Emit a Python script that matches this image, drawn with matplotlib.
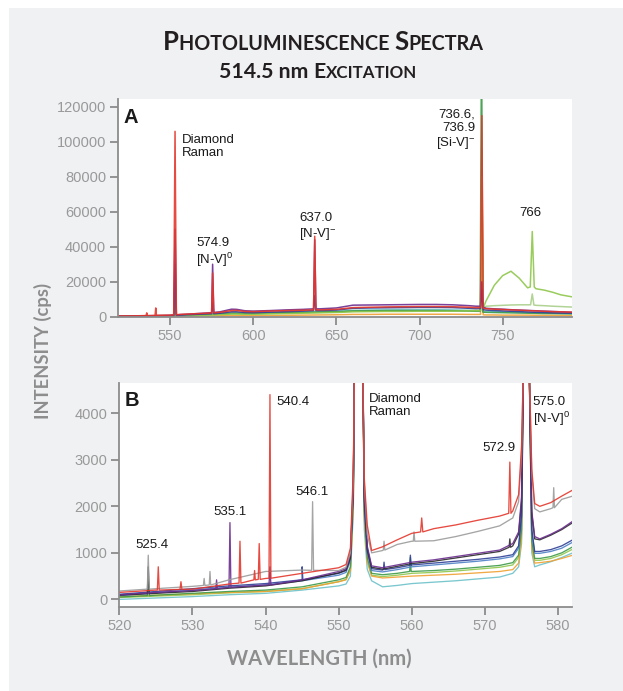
import numpy as np
import matplotlib
matplotlib.use("Agg")
import matplotlib.pyplot as plt
from matplotlib.patches import Rectangle
from matplotlib.offsetbox import TextArea, HPacker, AnnotationBbox

plt.rcParams['font.family'] = ['Liberation Sans', 'DejaVu Sans']
plt.rcParams['mathtext.fontset'] = 'custom'
plt.rcParams['mathtext.rm'] = 'Liberation Sans'
plt.rcParams['mathtext.it'] = 'Liberation Sans'

# ---------------- panel A : full range spectra ----------------
a_wl = [519, 525, 530, 540, 550, 551.5, 556, 560, 565, 570, 575, 580, 587, 590, 595, 600,
        610, 620, 630, 640, 650, 660, 670, 680, 690, 700, 710, 720, 730, 734, 740, 745,
        750, 755, 760, 765, 770, 775, 780, 785, 792]
a_red = [400, 450, 500, 700, 900, 1000, 1300, 1500, 1700, 1900, 2100, 2500, 3500, 3600, 3000, 2900,
         3200, 3500, 3700, 3900, 4200, 5200, 5400, 5600, 5700, 5800, 5800, 5700, 5400, 5200, 4600, 4300,
         4100, 3900, 3700, 3500, 3300, 3100, 2900, 2800, 2600]
a_purple = [300, 350, 400, 600, 800, 900, 1200, 1400, 1700, 2000, 2300, 2800, 4300, 4200, 3400, 3200,
            3500, 3900, 4200, 4500, 5000, 6600, 6700, 6800, 6900, 7000, 7000, 6800, 6300, 6000, 4800, 4500,
            4300, 4000, 3800, 3600, 3400, 3200, 3000, 2800, 2500]
a_darkblue = [200, 250, 300, 450, 600, 700, 900, 1100, 1300, 1500, 1700, 2000, 2800, 2800, 2400, 2300,
              2600, 2900, 3200, 3500, 3800, 4800, 5000, 5100, 5200, 5300, 5300, 5200, 4800, 4600, 3800, 3500,
              3300, 3100, 2900, 2700, 2500, 2400, 2200, 2100, 2000]
a_teal = [100, 150, 200, 300, 400, 500, 700, 800, 1000, 1100, 1300, 1500, 2000, 2000, 1800, 1800,
          2000, 2300, 2600, 2800, 3000, 3600, 3800, 3900, 4000, 4000, 4000, 3900, 3600, 3500, 3000, 2900,
          2800, 2700, 2600, 2500, 2400, 2300, 2200, 2100, 2000]
a_green = [150, 200, 250, 350, 500, 600, 800, 900, 1100, 1200, 1400, 1600, 2000, 2000, 1900, 1900,
           2100, 2300, 2500, 2700, 2900, 3300, 3400, 3500, 3500, 3500, 3500, 3400, 3200, 3100, 2500, 2400,
           2300, 2200, 2100, 2000, 1900, 1800, 1800, 1700, 1600]
a_lightgreen = [100, 150, 200, 300, 400, 500, 600, 700, 800, 900, 1000, 1200, 1500, 1500, 1400, 1400,
                1600, 1800, 2000, 2200, 2400, 2800, 2900, 3000, 3000, 3100, 3100, 3200, 3300, 3400, 9000, 18000,
                23500, 26000, 22000, 16500, 16000, 15200, 14000, 12500, 11300]
a_sage = [120, 170, 220, 320, 450, 550, 700, 800, 950, 1050, 1200, 1400, 1800, 1800, 1700, 1700,
          1900, 2100, 2300, 2500, 2700, 3100, 3200, 3300, 3300, 3400, 3400, 3400, 3500, 3600, 6000, 6300,
          6500, 6700, 6800, 6800, 6500, 6300, 6000, 5800, 5500]
a_orange = [50, 80, 100, 150, 200, 250, 300, 350, 400, 450, 500, 550, 700, 700, 650, 650,
            700, 800, 900, 1000, 1100, 1300, 1300, 1400, 1400, 1400, 1400, 1400, 1300, 1300, 1000, 1000,
            900, 900, 900, 900, 800, 800, 800, 700, 700]

# peaks (wavelength, cps) for panel A
a_red_pk_wl = [535.6, 536.0, 536.4, 541.0, 541.4, 541.8, 552.2, 553.0, 553.8, 574.9, 575.6, 576.3,
               636.3, 637.0, 637.7, 736.7, 737.5, 738.3]
a_red_pk = [650, 2200, 650, 800, 5000, 800, 950, 106000, 1100, 2150, 25000, 2200,
            3900, 46000, 3900, 5200, 115000, 4800]
a_purple_pk_wl = [552.2, 553.0, 553.8, 574.9, 575.6, 576.3, 636.3, 637.0, 637.7, 736.7, 737.5, 738.3]
a_purple_pk = [850, 50000, 1000, 2300, 30000, 2400, 4500, 44000, 4500, 6000, 20000, 5500]
a_darkblue_pk_wl = [552.2, 553.0, 553.8, 574.9, 575.6, 576.3, 636.3, 637.0, 637.7, 736.7, 737.5, 738.3]
a_darkblue_pk = [650, 30000, 800, 1700, 8000, 1700, 3500, 12000, 3500, 4700, 15000, 4000]
a_teal_pk_wl = [552.2, 553.0, 553.8, 736.7, 737.5, 738.3]
a_teal_pk = [500, 20000, 600, 3500, 60000, 3000]
a_green_pk_wl = [552.2, 553.0, 553.8, 736.5, 737.3, 738.1]
a_green_pk = [550, 25000, 700, 3100, 160000, 2600]
a_lightgreen_pk_wl = [736.7, 737.5, 738.3, 766.6, 767.8, 769.0]
a_lightgreen_pk = [3400, 80000, 5000, 17000, 48700, 17000]
a_sage_pk_wl = [736.7, 737.5, 738.3, 766.8, 767.8, 768.8]
a_sage_pk = [3600, 40000, 5000, 6800, 13000, 6700]
a_orange_pk_wl = [552.2, 553.0, 553.8, 736.7, 737.5, 738.3]
a_orange_pk = [250, 10000, 300, 1300, 95000, 1100]

# ---------------- panel B : 520-582 nm zoom ----------------
b_wl = [520, 525, 530, 535, 540, 545, 550, 551.0, 551.6, 552.0, 552.15, 552.75, 553.3, 553.5, 553.9,
        554.5, 556, 558, 560, 563, 566, 569, 572, 573.8, 574.6, 575.0, 575.25, 575.65, 576.05, 576.4,
        576.8, 577.5, 579, 580.5, 582]
b_red = [150, 200, 220, 330, 450, 560, 680, 750, 1100, 2800, 5000, 60000, 5000, 2600, 1600,
         1050, 1130, 1280, 1420, 1520, 1600, 1700, 1790, 1900, 2250, 3300, 5000, 60000, 5000, 2800,
         2060, 2000, 2080, 2220, 2350]
b_gray = [180, 230, 280, 420, 600, 630, 620, 690, 1000, 2600, 5000, 60000, 5000, 2500, 1400,
          1000, 1050, 1180, 1250, 1260, 1350, 1460, 1580, 1750, 2100, 3100, 5000, 60000, 5000, 2700,
          1950, 1880, 1950, 2150, 2220]
b_purple = [100, 150, 190, 260, 310, 420, 600, 660, 950, 2500, 5000, 60000, 5000, 2300, 1150,
            720, 680, 740, 800, 850, 920, 990, 1060, 1200, 1450, 2200, 5000, 60000, 5000, 1900,
            1350, 1300, 1400, 1520, 1680]
b_black = [90, 130, 170, 240, 290, 400, 570, 630, 900, 2400, 5000, 60000, 5000, 2200, 1100,
           690, 650, 710, 770, 820, 890, 960, 1030, 1150, 1400, 2100, 5000, 60000, 5000, 1850,
           1300, 1280, 1380, 1500, 1650]
b_darkblue = [110, 170, 230, 290, 340, 430, 560, 620, 880, 2400, 5000, 60000, 5000, 2100, 1050,
              660, 630, 680, 740, 780, 820, 860, 910, 960, 1150, 1800, 5000, 60000, 5000, 1500,
              1030, 1030, 1070, 1150, 1280]
b_blue = [80, 140, 200, 260, 310, 400, 520, 580, 830, 2300, 5000, 60000, 5000, 2000, 1000,
          620, 590, 640, 700, 740, 780, 820, 870, 920, 1100, 1750, 5000, 60000, 5000, 1450,
          990, 990, 1030, 1100, 1230]
b_green = [50, 90, 130, 170, 200, 270, 420, 470, 700, 2200, 5000, 60000, 5000, 1900, 900,
           560, 530, 560, 600, 620, 650, 690, 730, 790, 950, 1500, 5000, 60000, 5000, 1250,
           880, 880, 920, 1000, 1130]
b_lightgreen = [40, 70, 100, 140, 170, 230, 380, 430, 650, 2100, 5000, 60000, 5000, 1800, 850,
                520, 490, 520, 560, 580, 610, 650, 690, 740, 900, 1400, 5000, 60000, 5000, 1200,
                840, 840, 880, 960, 1080]
b_orange = [60, 90, 120, 150, 170, 230, 380, 420, 620, 2000, 5000, 60000, 5000, 1700, 800,
            500, 460, 480, 500, 520, 540, 570, 600, 640, 780, 1300, 5000, 60000, 5000, 1100,
            780, 790, 820, 880, 950]
b_teal = [0, 30, 60, 100, 130, 200, 290, 330, 500, 1900, 5000, 60000, 5000, 1500, 650,
          400, 270, 300, 340, 370, 400, 440, 480, 560, 700, 1200, 5000, 60000, 5000, 1000,
          700, 740, 810, 900, 1000]

b_red_pk_wl = [525.2, 525.33, 525.46, 528.3, 528.43, 528.56, 536.37, 536.5, 536.63, 538.4, 538.5, 538.6,
               539.0, 539.13, 539.26, 540.47, 540.6, 540.73, 561.2, 561.35, 561.5, 573.25, 573.4, 573.55]
b_red_pk = [200, 700, 200, 215, 380, 215, 350, 1250, 350, 420, 620, 420,
            430, 1200, 430, 455, 4400, 455, 1450, 1750, 1450, 1850, 2950, 1850]
b_gray_pk_wl = [523.83, 523.96, 524.09, 531.5, 531.6, 531.7, 532.3, 532.4, 532.5, 546.3, 546.43, 546.56,
                556.1, 556.2, 556.3, 560.2, 560.3, 560.4, 579.3, 579.4, 579.5]
b_gray_pk = [220, 950, 220, 300, 450, 300, 310, 600, 310, 625, 2100, 625,
             1060, 1250, 1060, 1250, 1450, 1250, 1970, 2400, 1970]
b_purple_pk_wl = [533.2, 533.3, 533.4, 535.0, 535.13, 535.26, 540.47, 540.6, 540.73]
b_purple_pk = [230, 420, 230, 260, 1650, 260, 310, 700, 310]
b_black_pk_wl = [523.83, 523.96, 524.09, 573.3, 573.4, 573.5]
b_black_pk = [120, 700, 120, 1120, 1300, 1120]
b_darkblue_pk_wl = [544.9, 545.0, 545.1, 556.1, 556.2, 556.3, 559.7, 559.8, 559.9]
b_darkblue_pk = [420, 700, 420, 640, 800, 640, 730, 950, 730]
b_green_pk_wl = [523.83, 523.96, 524.09, 559.7, 559.8, 559.9]
b_green_pk = [80, 450, 80, 600, 900, 600]

a_xticks = [550, 600, 650, 700, 750]
a_yticks = [0, 20000, 40000, 60000, 80000, 100000, 120000]
b_xticks = [520, 530, 540, 550, 560, 570, 580]
b_yticks = [0, 1000, 2000, 3000, 4000]

COL = {
    'red': '#e4362b', 'gray': '#9b9b9b', 'purple': '#6a2c8e', 'black': '#2a2a2a',
    'darkblue': '#2f3f95', 'blue': '#4d80c6', 'green': '#3c9a48', 'lightgreen': '#8fc74b',
    'orange': '#f0a033', 'teal': '#6cc1c9', 'sage': '#a9cf8a',
}
AXC = '#8c8c8c'
TXC = '#999999'


def merged(wl, vals, pk_wl=(), pk=()):
    x = np.concatenate([wl, pk_wl])
    y = np.concatenate([vals, pk])
    order = np.argsort(x, kind='stable')
    return x[order], y[order]


def style_axis(ax):
    for s in ['top', 'right']:
        ax.spines[s].set_visible(False)
    for s in ['left', 'bottom']:
        ax.spines[s].set_color(AXC)
        ax.spines[s].set_linewidth(1.3)
    ax.tick_params(direction='out', length=6, width=1.3, color=AXC, labelcolor=TXC,
                   labelsize=10.5, pad=2.5)


def small_caps(fig, parts, xy, color, family='Lato'):
    boxes = [TextArea(t, textprops=dict(size=s, weight='bold', color=color, family=family))
             for t, s in parts]
    pack = HPacker(children=boxes, align='baseline', pad=0, sep=0)
    ab = AnnotationBbox(pack, xy, xycoords='figure pixels', box_alignment=(0.5, 0.5),
                        frameon=False, pad=0)
    fig.add_artist(ab)


W, H = 623, 691
fig = plt.figure(figsize=(W / 100, H / 100), dpi=100, facecolor='white')
fig.add_artist(Rectangle((9 / W, 0), 1, 1 - 8 / H, transform=fig.transFigure,
                         facecolor='#f0f1f3', edgecolor='none', zorder=-10))

# ---- A
axA = fig.add_axes([118 / W, 1 - 316.7 / H, 454 / W, 217.7 / H])
a_series = [
    ('teal', a_teal, a_teal_pk_wl, a_teal_pk),
    ('orange', a_orange, a_orange_pk_wl, a_orange_pk),
    ('sage', a_sage, a_sage_pk_wl, a_sage_pk),
    ('green', a_green, a_green_pk_wl, a_green_pk),
    ('lightgreen', a_lightgreen, a_lightgreen_pk_wl, a_lightgreen_pk),
    ('darkblue', a_darkblue, a_darkblue_pk_wl, a_darkblue_pk),
    ('purple', a_purple, a_purple_pk_wl, a_purple_pk),
    ('red', a_red, a_red_pk_wl, a_red_pk),
]
for name, vals, pw, pv in a_series:
    x, y = merged(a_wl, vals, pw, pv)
    axA.plot(x, y, color=COL[name], lw=1.1, alpha=0.9)
axA.set_xlim(518.7, 791.7)
axA.set_ylim(0, 124500)
axA.set_xticks(a_xticks)
axA.set_yticks(a_yticks)
axA.set_yticklabels([str(v) for v in a_yticks])
style_axis(axA)

txt = dict(fontsize=9.5, color='#1a1a1a', linespacing=1.15)
axA.text(522.2, 119500, 'A', fontsize=14.5, fontweight='bold', color='#1a1a1a', va='top', ha='left')
axA.text(557.0, 104500, 'Diamond\nRaman', va='top', ha='left', **txt)
axA.text(565.6, 45800, '574.9\n[N-V]$^{0}$', va='top', ha='left', **txt)
axA.text(627.7, 59800, '637.0\n[N-V]$^{-}$', va='top', ha='left', **txt)
axA.text(733.6, 119200, '736.6,\n736.9\n[Si-V]$^{-}$', va='top', ha='right', multialignment='right', **txt)
axA.text(766.4, 62600, '766', va='top', ha='center', **txt)

# ---- B
axB = fig.add_axes([119.3 / W, 1 - 607.3 / H, 452.7 / W, 224.3 / H])
b_series = [
    ('teal', b_teal, [], []),
    ('lightgreen', b_lightgreen, [], []),
    ('orange', b_orange, [], []),
    ('green', b_green, b_green_pk_wl, b_green_pk),
    ('blue', b_blue, [], []),
    ('darkblue', b_darkblue, b_darkblue_pk_wl, b_darkblue_pk),
    ('black', b_black, b_black_pk_wl, b_black_pk),
    ('purple', b_purple, b_purple_pk_wl, b_purple_pk),
    ('gray', b_gray, b_gray_pk_wl, b_gray_pk),
    ('red', b_red, b_red_pk_wl, b_red_pk),
]
for name, vals, pw, pv in b_series:
    x, y = merged(b_wl, vals, pw, pv)
    axB.plot(x, y, color=COL[name], lw=0.95, alpha=0.9)
axB.set_xlim(520, 581.9)
axB.set_ylim(-170, 4650)
axB.set_xticks(b_xticks)
axB.set_yticks(b_yticks)
style_axis(axB)

axB.text(520.7, 4480, 'B', fontsize=14.5, fontweight='bold', color='#1a1a1a', va='top', ha='left')
axB.text(524.45, 1300, '525.4', va='top', ha='center', **txt)
axB.text(535.2, 2015, '535.1', va='top', ha='center', **txt)
axB.text(543.8, 4380, '540.4', va='top', ha='center', **txt)
axB.text(546.3, 2430, '546.1', va='top', ha='center', **txt)
axB.text(554.1, 4440, 'Diamond\nRaman', va='top', ha='left', **txt)
axB.text(571.9, 3380, '572.9', va='top', ha='center', **txt)
axB.text(576.5, 4370, '575.0\n[N-V]$^{0}$', va='top', ha='left', **txt)

# ---- titles and axis labels
small_caps(fig, [('P', 18.5), ('HOTOLUMINESCENCE ', 14.2), ('S', 18.5), ('PECTRA', 14.2)],
           (323, H - 42), '#231f20')
small_caps(fig, [('514.5 nm ', 15.3), ('E', 15.3), ('XCITATION', 12.2)],
           (318, H - 71.5), '#231f20')
fig.text(43 / W, 1 - 351 / H, 'INTENSITY (cps)', rotation=90, ha='center', va='center',
         fontsize=13.2, fontweight='bold', color='#8d8d8d', family='Lato')
fig.text(319 / W, 1 - 659 / H, 'WAVELENGTH (nm)', ha='center', va='center',
         fontsize=14.5, fontweight='bold', color='#8d8d8d', family='Lato')

fig.savefig('out.png', dpi=100, facecolor='white')
